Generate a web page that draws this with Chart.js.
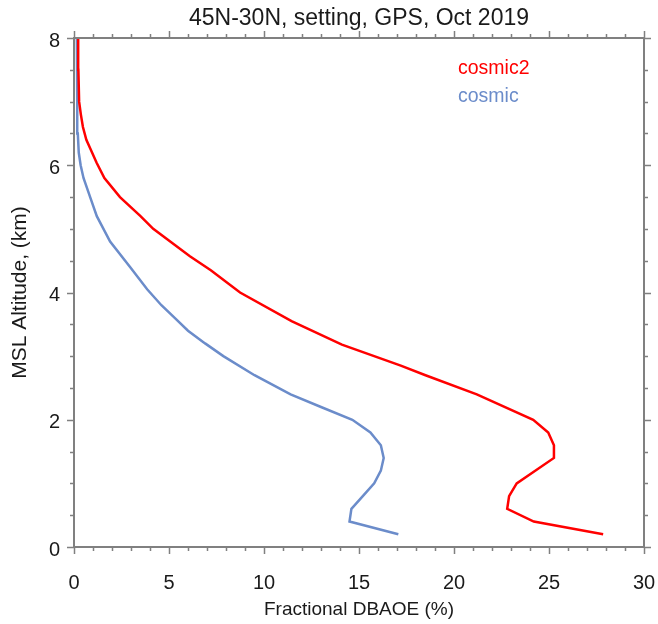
<!DOCTYPE html>
<html lang="en">
<head>
    <meta charset="UTF-8">
    <title>45N-30N, setting, GPS, Oct 2019</title>
    <script src="https://cdn.jsdelivr.net/npm/chart.js"></script>
    <style>
        body { margin: 0; background: #fff; }
        #wrap { width: 658px; height: 624px; }
    </style>
</head>
<body>
<div id="wrap"><canvas id="dbaoe"></canvas></div>
<script>
    // altitudes (km) and fractional DBAOE (%)
    const cosmic2Alt = [0.2, 0.4, 0.6, 0.8, 1.0, 1.4, 1.6, 1.8, 2.0, 2.4, 2.7, 2.85, 3.18, 3.55, 4.0, 4.35, 4.57, 5.0, 5.2, 5.5, 5.8, 6.04, 6.2, 6.4, 6.6, 6.8, 7.0, 7.5, 8.0];
    const cosmic2Val = [27.85, 24.2, 22.8, 22.9, 23.3, 25.26, 25.26, 24.96, 24.17, 21.2, 18.5, 17.2, 14.1, 11.45, 8.74, 7.2, 6.1, 4.17, 3.5, 2.42, 1.6, 1.19, 0.95, 0.65, 0.47, 0.36, 0.27, 0.23, 0.22];

    const cosmicAlt = [0.2, 0.4, 0.6, 0.8, 1.0, 1.2, 1.4, 1.6, 1.8, 2.0, 2.2, 2.4, 2.7, 3.0, 3.2, 3.4, 3.6, 3.8, 4.05, 4.4, 4.8, 5.2, 5.5, 5.8, 6.0, 6.2, 6.5, 7.0, 8.0];
    const cosmicVal = [17.07, 14.5, 14.6, 15.2, 15.8, 16.15, 16.3, 16.15, 15.6, 14.65, 13.0, 11.4, 9.5, 7.86, 6.9, 6.0, 5.3, 4.6, 3.85, 2.95, 1.9, 1.2, 0.85, 0.5, 0.35, 0.25, 0.2, 0.17, 0.15];

    const xTickLabels = [0, 5, 10, 15, 20, 25, 30];
    const yTickLabels = [0, 2, 4, 6, 8];

    const seriesNames = ['cosmic2', 'cosmic'];
    const seriesColors = ['#ff0000', '#6b8cca'];
    const chartTitle = '45N-30N, setting, GPS, Oct 2019';

    const axisColor = '#808080';
    const textColor = '#1a1a1a';
    const fontFamily = '"Liberation Sans", Arial, sans-serif';

    function toPoints(alt, val) {
        return alt.map((a, i) => ({ x: val[i], y: a }));
    }

    // box around the plot, outward ticks on all four sides, title and legend text
    const frameTicks = {
        id: 'frameTicks',
        afterDatasetsDraw(chart) {
            const { ctx, chartArea: a, scales } = chart;
            ctx.save();
            ctx.strokeStyle = axisColor;
            ctx.lineWidth = 1.5;
            scales.x.ticks.forEach(t => {
                const px = Math.round(scales.x.getPixelForValue(t.value)) + 0.5;
                const len = xTickLabels.includes(t.value) ? 7 : 4;
                ctx.beginPath();
                ctx.moveTo(px, a.bottom); ctx.lineTo(px, a.bottom + len);
                ctx.moveTo(px, a.top); ctx.lineTo(px, a.top - len);
                ctx.stroke();
            });
            scales.y.ticks.forEach(t => {
                const py = Math.round(scales.y.getPixelForValue(t.value)) + 0.5;
                const len = yTickLabels.includes(t.value) ? 7 : 4;
                ctx.beginPath();
                ctx.moveTo(a.left, py); ctx.lineTo(a.left - len, py);
                ctx.moveTo(a.right, py); ctx.lineTo(a.right + len, py);
                ctx.stroke();
            });
            ctx.lineWidth = 2;
            ctx.strokeRect(a.left, a.top, a.right - a.left, a.bottom - a.top);

            // title centred over the plot box
            ctx.fillStyle = textColor;
            ctx.font = '23px ' + fontFamily;
            ctx.textAlign = 'center';
            ctx.textBaseline = 'middle';
            ctx.fillText(chartTitle, (a.left + a.right) / 2, 19);

            // in-plot legend (coloured text only)
            ctx.font = '19.5px ' + fontFamily;
            ctx.textAlign = 'left';
            seriesNames.forEach((name, i) => {
                ctx.fillStyle = seriesColors[i];
                ctx.fillText(name, a.left + 384, a.top + 31 + i * 28);
            });
            ctx.restore();
        }
    };

    new Chart(document.getElementById('dbaoe'), {
        type: 'scatter',
        data: {
            datasets: [
                {
                    label: seriesNames[0],
                    data: toPoints(cosmic2Alt, cosmic2Val),
                    showLine: true,
                    borderColor: seriesColors[0],
                    borderWidth: 2.5,
                    pointRadius: 0,
                    tension: 0
                },
                {
                    label: seriesNames[1],
                    data: toPoints(cosmicAlt, cosmicVal),
                    showLine: true,
                    borderColor: seriesColors[1],
                    borderWidth: 2.5,
                    pointRadius: 0,
                    tension: 0
                }
            ]
        },
        options: {
            responsive: true,
            maintainAspectRatio: false,
            animation: false,
            layout: { padding: { top: 38, right: 14, bottom: 0, left: 0 } },
            plugins: {
                legend: { display: false },
                tooltip: { enabled: false },
                title: { display: false }
            },
            scales: {
                x: {
                    type: 'linear',
                    min: 0,
                    max: 30,
                    afterFit: s => { s.height = 77; s.paddingLeft = 0; s.paddingRight = 0; },
                    grid: { display: false, drawTicks: true, tickLength: 8 },
                    border: { display: false },
                    ticks: {
                        stepSize: 1,
                        autoSkip: false,
                        maxRotation: 0,
                        padding: 16,
                        color: textColor,
                        font: { family: fontFamily, size: 20 },
                        callback: v => xTickLabels.includes(v) ? String(v) : ''
                    },
                    title: {
                        display: true,
                        text: 'Fractional DBAOE (%)',
                        color: textColor,
                        font: { family: fontFamily, size: 19 },
                        padding: { top: 0, bottom: 3 }
                    }
                },
                y: {
                    type: 'linear',
                    min: 0,
                    max: 8,
                    afterFit: s => { s.width = 74; s.paddingTop = 0; s.paddingBottom = 0; },
                    grid: { display: false, drawTicks: true, tickLength: 8 },
                    border: { display: false },
                    ticks: {
                        stepSize: 0.5,
                        autoSkip: false,
                        padding: 6,
                        labelOffset: 3,
                        color: textColor,
                        font: { family: fontFamily, size: 20 },
                        callback: v => yTickLabels.includes(v) ? String(v) : ''
                    },
                    title: {
                        display: true,
                        text: 'MSL Altitude, (km)',
                        color: textColor,
                        font: { family: fontFamily, size: 21 },
                        padding: { top: 8, bottom: 0 }
                    }
                }
            }
        },
        plugins: [frameTicks]
    });
</script>
</body>
</html>
